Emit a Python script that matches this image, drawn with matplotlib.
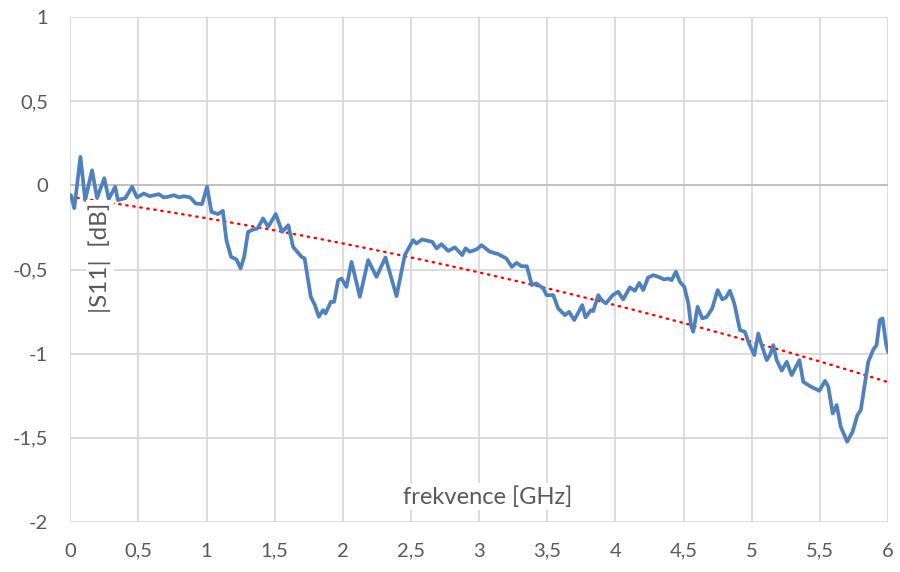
import matplotlib
matplotlib.use('Agg')
import matplotlib.pyplot as plt
import numpy as np

# frequency [GHz] and |S11| [dB]
freq = [0.006, 0.03, 0.075, 0.11, 0.16, 0.197, 0.25, 0.283, 0.33, 0.35, 0.405, 0.454,
        0.49, 0.54, 0.583, 0.65, 0.686, 0.72, 0.76, 0.8, 0.833, 0.88, 0.92, 0.967,
        1.004, 1.036, 1.085, 1.12, 1.146, 1.18, 1.22, 1.25, 1.276, 1.305, 1.342, 1.374,
        1.415, 1.452, 1.508, 1.555, 1.6, 1.635, 1.697, 1.72, 1.765, 1.795, 1.824, 1.855,
        1.873, 1.912, 1.936, 1.966, 1.99, 2.027, 2.064, 2.125, 2.186, 2.247, 2.313, 2.394,
        2.455, 2.516, 2.54, 2.582, 2.656, 2.688, 2.724, 2.773, 2.822, 2.876, 2.9, 2.932,
        2.981, 3.018, 3.079, 3.14, 3.2, 3.24, 3.275, 3.31, 3.35, 3.387, 3.42, 3.47,
        3.495, 3.544, 3.58, 3.63, 3.66, 3.698, 3.757, 3.78, 3.82, 3.837, 3.874, 3.9,
        3.93, 3.98, 4.02, 4.057, 4.106, 4.143, 4.175, 4.204, 4.24, 4.278, 4.314, 4.358,
        4.387, 4.412, 4.444, 4.473, 4.505, 4.535, 4.554, 4.571, 4.603, 4.637, 4.67, 4.71,
        4.75, 4.784, 4.811, 4.84, 4.872, 4.914, 4.95, 4.98, 5.019, 5.048, 5.073, 5.11,
        5.134, 5.158, 5.183, 5.22, 5.257, 5.293, 5.35, 5.378, 5.428, 5.496, 5.538, 5.562,
        5.594, 5.623, 5.653, 5.7, 5.74, 5.775, 5.8, 5.823, 5.855, 5.892, 5.916, 5.94,
        5.96, 5.985, 6.0]
s11 = [-0.058, -0.135, 0.17, -0.087, 0.09, -0.075, 0.043, -0.08, -0.008, -0.087, -0.075, -0.008,
       -0.071, -0.048, -0.064, -0.052, -0.071, -0.067, -0.058, -0.071, -0.064, -0.071, -0.107, -0.111,
       -0.008, -0.157, -0.17, -0.151, -0.325, -0.424, -0.44, -0.493, -0.424, -0.276, -0.262, -0.256,
       -0.196, -0.246, -0.17, -0.276, -0.236, -0.365, -0.424, -0.434, -0.662, -0.711, -0.78, -0.741,
       -0.761, -0.692, -0.692, -0.563, -0.553, -0.603, -0.454, -0.662, -0.444, -0.543, -0.428, -0.658,
       -0.414, -0.325, -0.345, -0.321, -0.335, -0.374, -0.349, -0.389, -0.368, -0.414, -0.374, -0.394,
       -0.38, -0.355, -0.394, -0.408, -0.434, -0.484, -0.46, -0.48, -0.48, -0.592, -0.582, -0.612,
       -0.652, -0.652, -0.731, -0.771, -0.751, -0.8, -0.711, -0.784, -0.741, -0.747, -0.652, -0.682,
       -0.701, -0.652, -0.632, -0.677, -0.606, -0.626, -0.579, -0.622, -0.547, -0.533, -0.543, -0.559,
       -0.553, -0.563, -0.513, -0.573, -0.602, -0.701, -0.83, -0.87, -0.721, -0.79, -0.781, -0.731,
       -0.622, -0.677, -0.666, -0.626, -0.701, -0.86, -0.87, -0.939, -1.008, -0.88, -0.949, -1.038,
       -1.008, -0.949, -1.038, -1.1, -1.048, -1.127, -1.038, -1.167, -1.193, -1.22, -1.161, -1.197,
       -1.355, -1.305, -1.434, -1.523, -1.464, -1.365, -1.335, -1.216, -1.048, -0.975, -0.949, -0.80,
       -0.79, -0.939, -0.99]

# polynomial (order 2) trend line coefficients
trend_coef = [-0.0113, -0.1157, -0.068]

xticks = [0, 0.5, 1, 1.5, 2, 2.5, 3, 3.5, 4, 4.5, 5, 5.5, 6]
yticks = [-2, -1.5, -1, -0.5, 0, 0.5, 1]

def fmt(v):
    s = ('%g' % v).replace('.', ',')
    return s

plt.rcParams['font.family'] = ['Lato', 'DejaVu Sans']
txt = '#595959'
grid = '#d9d9d9'

fig = plt.figure(figsize=(9, 5.72), dpi=100)
ax = fig.add_axes([0.078, 0.0874, 0.9087, 0.8826])

for t in xticks:
    ax.axvline(t, color=grid, lw=1.3, zorder=0)
for t in yticks:
    ax.axhline(t, color=grid, lw=1.3, zorder=0)
ax.axhline(0, color='#bfbfbf', lw=1.3, zorder=1)

ax.plot(freq, s11, color='#4f81bd', lw=2.7, solid_joinstyle='round',
        solid_capstyle='round', zorder=3)

xt = np.linspace(0, 6, 200)
ax.plot(xt, np.polyval(trend_coef, xt), color='#ff0000', lw=1.7,
        linestyle=(0, (0.6, 2.4)), dash_capstyle='round', zorder=2)

ax.set_xlim(0, 6)
ax.set_ylim(-2, 1)
ax.set_xticks(xticks)
ax.set_yticks(yticks)
ax.set_xticklabels([fmt(t) for t in xticks])
ax.set_yticklabels([fmt(t) for t in yticks])
ax.tick_params(length=0, labelsize=14.5, colors=txt)
ax.tick_params(axis='y', pad=16)
ax.tick_params(axis='x', pad=15)
for s in ax.spines.values():
    s.set_visible(False)

bb = dict(facecolor='white', edgecolor='none', pad=2)
ax.text(3.06, -1.85, 'frekvence [GHz]', ha='center', va='center', fontsize=17,
        color=txt, bbox=bb, zorder=5)
ax.text(0.22, -0.43, '|S11|  [dB]', ha='center', va='center', rotation=90,
        fontsize=17.5, color=txt, bbox=bb, zorder=5)

fig.savefig('out.png', dpi=100)
